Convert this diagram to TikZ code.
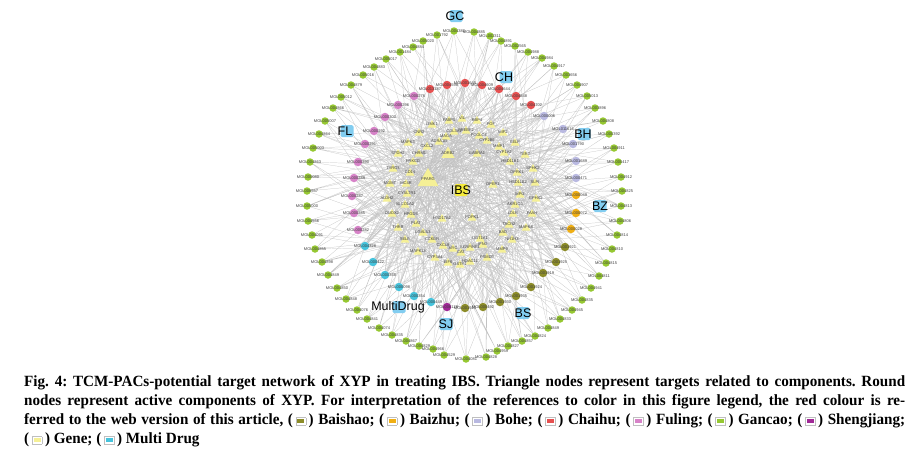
\documentclass[tikz,border=0pt]{standalone}
\usepackage{fontspec}
\setmainfont{Liberation Sans}
\newfontfamily\capfont{Liberation Serif}[FakeStretch=0.97]
\usetikzlibrary{shapes.geometric,backgrounds}
\definecolor{gancao}{RGB}{150,200,50}
\definecolor{chaihu}{RGB}{230,80,80}
\definecolor{fuling}{RGB}{215,130,200}
\definecolor{bohe}{RGB}{185,185,225}
\definecolor{baizhu}{RGB}{240,175,20}
\definecolor{baishao}{RGB}{140,140,40}
\definecolor{sheng}{RGB}{160,40,150}
\definecolor{multi}{RGB}{70,195,220}
\definecolor{genecol}{RGB}{245,240,150}
\definecolor{hubcol}{RGB}{130,205,240}
\definecolor{ibscol}{RGB}{245,235,60}
\newcommand{\lgb}[1]{\raisebox{0.05em}{\setlength\fboxsep{1.3pt}\setlength\fboxrule{0.5pt}\fcolorbox{black!25}{white}{\setlength\fboxsep{0pt}\colorbox{#1}{\rule{0pt}{4pt}\hspace{7pt}}}}}
\tikzset{
  comp/.style={circle, draw=none, fill=#1, minimum size=7.5pt, inner sep=0pt},
  gene/.style={regular polygon, regular polygon sides=3, fill=genecol, draw=none, minimum size=10pt, inner sep=0pt},
  lbl/.style={font=\fontsize{4}{4}\selectfont, text=black!75, inner sep=0pt},
  hub/.style={fill=#1, rounded corners=1.5pt, minimum width=13pt, minimum height=12pt, inner sep=0pt},
  hubtxt/.style={font=\fontsize{12.5}{12.5}\selectfont, inner sep=0pt, text=black},
  lnk/.style={draw=black!24, line width=0.22pt},
  capline/.style={anchor=base west, inner sep=0pt, font=\capfont\bfseries\fontsize{15.6}{19}\selectfont\frenchspacing}
}
\begin{document}
\begin{tikzpicture}[x=1pt,y=-1pt]
\useasboundingbox (0,0) rectangle (920,451);
% genes
\foreach \x/\y/\t [count=\i] in {449/121/FABP5,462/119/VIL,477/121/RBP4,491/125/FOF,432/125/LIMK1,503/133/MIF2,419/133/CNR2,454/132/COL3A1,466/131/SREBF2,446/137/MAOA,479/136/PCOLCE,487/141/CYP2B6,515/143/SELP,408/143/MAPK3,439/142/ADRA1B,427/147/CXCL2,499/147/MMP1,398/154/SPDH2,419/154/CHRM1,448/154/ADRB2,477/154/GABRA1,504/153/CYP1A2,525/155/TERT,510/162/HSD11B1,413/162/PRKCD,393/169/TYRO3,533/169/SPHK2,410/173/CD14,517/173/OPRK1,428/180/PPARG,390/184/MGMT,406/184/MC4R,493/185/DPEP1,518/183/HSD11B2,535/183/SLPI,407/194/CYSLTR1,520/195/MPG,387/199/ALDH2,536/199/EPHX2,405/205/SLCO1A2,515/205/AKR1C3,392/214/DUOX2,411/215/HPGDS,442/219/HSD17B2,472/218/PDPK1,513/214/LDLR,532/214/FAAH,398/228/THRB,416/224/PLAT,509/225/TACR2,526/228/MAPK8,423/233/LGALS3,503/233/BAD,405/240/SELE,432/240/CCKBR,480/239/UGT1A1,512/240/NR1H3,443/246/CXCL8,453/249/MYC,470/248/SERPINE1,483/245/IFNG,418/252/MAPK14,461/253/CAT,502/250/MMP9,435/258/CYP3A4,487/258/PSMD3,470/262/HDAC11,448/263/EIF6,460/265/GSTP1}{
  \node[gene] (g\i) at (\x,\y) {};
}
\node[gene, minimum size=24pt] (gP) at (g30) {};
\node[gene, minimum size=15pt] (gA) at (g20) {};
\foreach \x/\y/\t [count=\i] in {449/121/FABP5,462/119/VIL,477/121/RBP4,491/125/FOF,432/125/LIMK1,503/133/MIF2,419/133/CNR2,454/132/COL3A1,466/131/SREBF2,446/137/MAOA,479/136/PCOLCE,487/141/CYP2B6,515/143/SELP,408/143/MAPK3,439/142/ADRA1B,427/147/CXCL2,499/147/MMP1,398/154/SPDH2,419/154/CHRM1,448/154/ADRB2,477/154/GABRA1,504/153/CYP1A2,525/155/TERT,510/162/HSD11B1,413/162/PRKCD,393/169/TYRO3,533/169/SPHK2,410/173/CD14,517/173/OPRK1,428/180/PPARG,390/184/MGMT,406/184/MC4R,493/185/DPEP1,518/183/HSD11B2,535/183/SLPI,407/194/CYSLTR1,520/195/MPG,387/199/ALDH2,536/199/EPHX2,405/205/SLCO1A2,515/205/AKR1C3,392/214/DUOX2,411/215/HPGDS,442/219/HSD17B2,472/218/PDPK1,513/214/LDLR,532/214/FAAH,398/228/THRB,416/224/PLAT,509/225/TACR2,526/228/MAPK8,423/233/LGALS3,503/233/BAD,405/240/SELE,432/240/CCKBR,480/239/UGT1A1,512/240/NR1H3,443/246/CXCL8,453/249/MYC,470/248/SERPINE1,483/245/IFNG,418/252/MAPK14,461/253/CAT,502/250/MMP9,435/258/CYP3A4,487/258/PSMD3,470/262/HDAC11,448/263/EIF6,460/265/GSTP1}{
  \node[lbl] at (\x,\y-0.5) {\t};
}
% outer ring (Gancao)
\foreach \x/\y/\t [count=\i] in {474/32/MOL004885,490/36/MOL002311,501/41/MOL004891,515/46/MOL002565,528/52/MOL004988,542/58/MOL004984,554/66/MOL004917,566/75/MOL003656,577/85/MOL004907,587/96/MOL005013,595/108/MOL003896,603/121/MOL004808,609/134/MOL000392,614/148/MOL004911,618/162/MOL000417,621/177/MOL004912,622/191/MOL004825,621/206/MOL004813,620/221/MOL004806,617/235/MOL004814,612/249/MOL004810,606/263/MOL004815,599/276/MOL004811,591/288/MOL004941,582/300/MOL004835,572/310/MOL004945,560/319/MOL004833,548/328/MOL004849,535/336/MOL004824,522/341/MOL004857,508/346/MOL004827,497/351/MOL004959,486/357/MOL004828,466/359/MOL004081,444/355/MOL004529,433/349/MOL004966,419/346/MOL004829,406/341/MOL004867,392/335/MOL004835,379/328/MOL004074,367/319/MOL004841,357/310/MOL004076,346/299/MOL004848,337/288/MOL004850,328/275/MOL004849,322/262/MOL004898,315/249/MOL004855,312/235/MOL004091,308/221/MOL004556,307/206/MOL005000,307/191/MOL008557,308/177/MOL000080,310/162/MOL004863,313/148/MOL005003,319/134/MOL004864,325/121/MOL005007,333/108/MOL004866,341/97/MOL005012,351/85/MOL004879,363/75/MOL005016,374/67/MOL004883,386/59/MOL005017,400/52/MOL001484,413/47/MOL004884,423/41/MOL005020,437/35/MOL001792,454/31/MOL004383}{
  \node[comp=gancao] (o\i) at (\x,\y) {};
  \node[lbl] at (\x,\y) {\t};
}
% inner ring
\foreach \x/\y/\t/\cl [count=\i] in {430/89/MOL013187/chaihu,447/85/MOL004598/chaihu,465/83/MOL001645/chaihu,482/85/MOL004609/chaihu,499/89/MOL004644/chaihu,516/96/MOL004648/chaihu,531/105/MOL004702/chaihu,414/96/MOL000276/fuling,398/105/MOL000296/fuling,385/117/MOL000300/fuling,374/131/MOL000292/fuling,365/144/MOL000291/fuling,358/162/MOL000290/fuling,354/178/MOL000289/fuling,352/196/MOL000287/fuling,354/213/MOL000285/fuling,358/230/MOL000282/fuling,365/246/MOL004328/multi,373/262/MOL000422/multi,385/275/MOL000358/multi,399/287/MOL000098/multi,414/296/MOL000354/multi,431/302/MOL000449/multi,447/307/MOL006129/sheng,465/308/MOL001910/baishao,483/307/MOL000492/baishao,500/302/MOL001930/baishao,516/296/MOL001935/baishao,531/287/MOL001924/baishao,543/273/MOL001919/baishao,556/262/MOL001925/baishao,565/247/MOL001921/baishao,544/116/MOL000006/bohe,563/129/MOL011616/bohe,573/144/MOL001790/bohe,576/161/MOL001689/bohe,576/178/MOL000471/bohe,576/195/MOL000049/baizhu,576/213/MOL000072/baizhu,571/229/MOL000028/baizhu}{
  \node[comp=\cl, minimum size=8.5pt] (c\i) at (\x,\y) {};
  \node[lbl] at (\x,\y) {\t};
}
% hub labels
\node[hub=hubcol] (hGC) at (456,16) {};
\node[hubtxt] at (455,16) {GC};
\node[hub=hubcol] (hCH) at (506,77) {};
\node[hubtxt] at (504,77) {CH};
\node[hub=hubcol] (hFL) at (347,131) {};
\node[hubtxt] at (345,131) {FL};
\node[hub=hubcol] (hBH) at (584,134) {};
\node[hubtxt] at (583,134) {BH};
\node[hub=hubcol] (hBZ) at (600,206) {};
\node[hubtxt] at (600,206) {BZ};
\node[hub=hubcol] (hBS) at (523,313) {};
\node[hubtxt] at (523,313) {BS};
\node[hub=hubcol] (hSJ) at (446,324) {};
\node[hubtxt] at (446,324) {SJ};
\node[hub=hubcol] (hMD) at (399,307) {};
\node[hubtxt] at (398,307) {MultiDrug};
\node[hub=ibscol] (hIBS) at (461,190) {};
\node[hubtxt] at (461,190) {IBS};
% edges
\begin{pgfonlayer}{background}
\fill[white] (0,0) rectangle (920,451);
\foreach \i in {1,...,67}{
  \pgfmathtruncatemacro\ea{mod(\i*7,69)+1}
  \pgfmathtruncatemacro\eb{mod(\i*23+11,69)+1}
  \pgfmathtruncatemacro\ec{mod(\i*41+30,69)+1}
  \draw[lnk] (o\i) -- (g\ea) (o\i) -- (g\eb) (o\i) -- (g\ec);
}
\foreach \i in {1,3,...,67}{
  \draw[lnk] (o\i) -- (gP);
}
\foreach \i in {2,6,...,67}{
  \draw[lnk] (o\i) -- (gA);
}
\foreach \j in {1,...,40}{
  \foreach \k in {1,...,9}{
    \pgfmathtruncatemacro\ea{mod(\j*5+\k*\k*7+\k*3,69)+1}
    \draw[lnk] (c\j) -- (g\ea);
  }
  \draw[lnk] (c\j) -- (gP) (c\j) -- (gA);
}
\end{pgfonlayer}
% caption
\node[capline] (cap1) at (24,386) {\makebox[881pt][s]{Fig. 4: TCM-PACs-potential target network of XYP in treating IBS. Triangle nodes represent targets related to components. Round}};
\node[capline] (cap2) at (24,405) {\makebox[881pt][s]{nodes represent active components of XYP. For interpretation of the references to color in this figure legend, the red colour is re-}};
\node[capline] (cap3) at (24,424) {\makebox[881pt][s]{ferred to the web version of this article, (\,\lgb{baishao}\,) Baishao; (\,\lgb{baizhu}\,) Baizhu; (\,\lgb{bohe}\,) Bohe; (\,\lgb{chaihu}\,) Chaihu; (\,\lgb{fuling}\,) Fuling; (\,\lgb{gancao}\,) Gancao; (\,\lgb{sheng}\,) Shengjiang;}};
\node[capline] (cap4) at (24,443) {(\,\lgb{genecol}\,) Gene; (\,\lgb{multi}\,) Multi Drug};
\end{tikzpicture}
\end{document}
